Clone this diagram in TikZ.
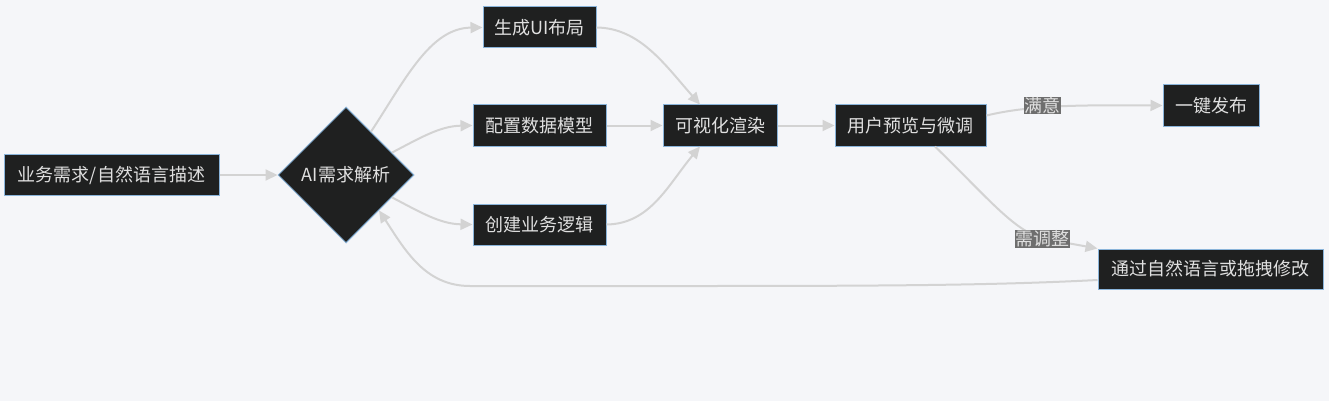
\documentclass[tikz,border=0pt]{standalone}
\usepackage{fontspec}
\setmainfont{Noto Sans CJK SC}
\usetikzlibrary{shapes.geometric,arrows.meta}
\definecolor{bgc}{HTML}{F5F6F9}
\definecolor{nfill}{HTML}{1F2020}
\definecolor{nborder}{HTML}{8AB4DA}
\definecolor{ntext}{HTML}{E0E0E0}
\definecolor{edgec}{HTML}{D3D3D3}
\definecolor{lblbg}{HTML}{6E6E6E}
\tikzset{
  box/.style={draw=nborder, line width=1pt, fill=nfill, text=ntext, inner sep=0pt,
    minimum height=41pt, font=\fontsize{18}{20}\selectfont},
  dia/.style={diamond, draw=nborder, line width=1pt, fill=nfill, text=ntext, inner sep=0pt,
    minimum width=136pt, minimum height=136pt, font=\fontsize{18}{20}\selectfont},
  edge/.style={draw=edgec, line width=2pt, -{Triangle[length=12pt,width=11pt]}},
  lbl/.style={fill=lblbg, text=ntext, inner sep=0.5pt, font=\fontsize{18}{19}\selectfont}
}
\begin{document}
\begin{tikzpicture}[x=1pt,y=-1pt]
\fill[bgc] (0,0) rectangle (1329,401);
\useasboundingbox (0,0) rectangle (1329,401);
\node[box, minimum width=215pt] (a) at (111.5,175) {业务需求/自然语言描述};
\node[dia] (d) at (346,175) {AI需求解析};
\node[box, minimum width=113pt] (b) at (539.5,27.5) {生成UI布局};
\node[box, minimum width=133pt] (c) at (539.5,125.5) {配置数据模型};
\node[box, minimum width=133pt] (l) at (539.5,224.5) {创建业务逻辑};
\node[box, minimum width=114pt] (e) at (720,125.5) {可视化渲染};
\node[box, minimum width=151pt] (f) at (910.5,125.5) {用户预览与微调};
\node[box, minimum width=96pt] (g) at (1211,105.5) {一键发布};
\node[box, minimum width=225pt, minimum height=40pt] (h) at (1210.5,269) {通过自然语言或拖拽修改};

\draw[edge] (a.east) -- (d.west);
\draw[edge] (d.60) .. controls (405,80) and (430,28) .. (b.west);
\draw[edge] (d.26) .. controls (420,138) and (440,126) .. (c.west);
\draw[edge] (d.-26) .. controls (420,212) and (440,224) .. (l.west);
\draw[edge] (b.east) .. controls (640,28) and (665,65) .. ([xshift=-20pt]e.north);
\draw[edge] (c.east) -- (e.west);
\draw[edge] (l.east) .. controls (650,224) and (668,185) .. ([xshift=-20pt]e.south);
\draw[edge] (e.east) -- (f.west);
\draw[edge] ([yshift=10pt]f.east) .. controls (1030,105) and (1080,105) .. (g.west);
\draw[edge] ([xshift=24.5pt]f.south) .. controls (990,200) and (1015,232) .. (1045,239) -- (h.north west);
\draw[edge] ([yshift=-11pt]h.west) .. controls (1000,285) and (900,286) .. (700,286) -- (470,286) .. controls (425,286) and (405,250) .. (d.-47);

\node[lbl] (l1) at (1042,105.5) {满意};
\node[lbl] (l2) at (1042.5,239) {需调整};
\end{tikzpicture}
\end{document}
